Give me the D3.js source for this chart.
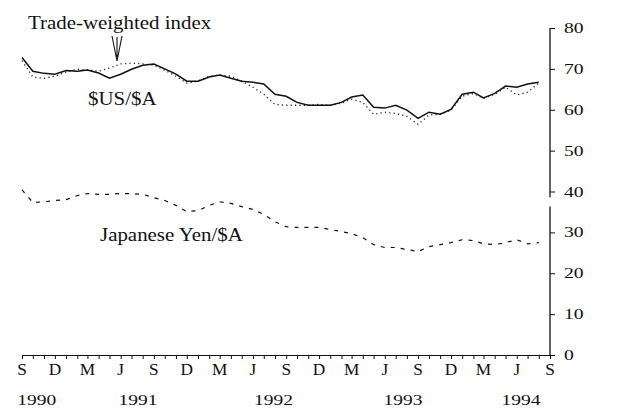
<!DOCTYPE html>
<html>
<head>
<meta charset="utf-8">
<script src="https://cdn.jsdelivr.net/npm/d3@7/dist/d3.min.js"></script>
<style>
  body { margin: 0; background: #fff; }
  text { font-family: "Liberation Serif", "Times New Roman", serif; fill: #111; }
</style>
</head>
<body>
<svg id="chart" width="631" height="410"></svg>
<script>
// monthly series, Sep 1990 .. Aug 1994
var startMonth = new Date(1990, 8, 1);
var usdAud = [72.8, 69.4, 68.9, 68.7, 69.6, 69.4, 69.7, 69.0, 67.7, 68.7, 69.9, 70.9,
              71.2, 70.0, 68.7, 67.0, 67.0, 68.0, 68.5, 67.7, 67.0, 66.7, 66.3, 63.8,
              63.3, 61.8, 61.1, 61.1, 61.1, 61.8, 63.1, 63.6, 60.6, 60.4, 61.1, 59.9,
              57.9, 59.4, 58.9, 60.1, 63.8, 64.3, 62.9, 64.0, 65.8, 65.5, 66.3, 66.7];
var twiAud = [72.0, 68.0, 67.7, 68.2, 69.2, 69.9, 69.7, 69.4, 70.2, 71.2, 71.4, 71.2,
              70.9, 69.7, 68.2, 66.5, 67.0, 68.2, 68.5, 68.2, 67.0, 65.5, 63.8, 61.3,
              61.1, 61.1, 61.1, 61.3, 61.1, 61.6, 62.6, 61.8, 58.9, 59.4, 59.1, 58.4,
              56.4, 58.7, 58.9, 59.9, 63.3, 64.0, 62.8, 63.8, 65.5, 63.6, 64.3, 66.5];
var yenAud = [40.4, 37.3, 37.5, 37.8, 38.0, 39.0, 39.5, 39.3, 39.3, 39.5, 39.5, 39.3,
              38.5, 37.8, 36.6, 35.1, 35.3, 36.6, 37.5, 37.1, 36.3, 35.6, 34.4, 32.6,
              31.4, 31.2, 31.2, 31.2, 30.7, 30.2, 29.7, 28.7, 27.0, 26.3, 26.3, 25.8,
              25.3, 26.5, 27.0, 27.5, 28.2, 28.0, 27.2, 27.0, 27.5, 28.2, 27.2, 27.5];

var yTicks = [0, 10, 20, 30, 40, 50, 60, 70, 80];
var quarterLabels = ['S', 'D', 'M', 'J', 'S', 'D', 'M', 'J', 'S', 'D', 'M', 'J',
                     'S', 'D', 'M', 'J', 'S'];
var yearLabels = ['1990', '1991', '1992', '1993', '1994'];
var yearDates = [new Date(1990, 9, 12), new Date(1991, 6, 19), new Date(1992, 6, 28),
                 new Date(1993, 6, 21), new Date(1994, 5, 13)];
var axisBreak = [36.3, 38.6];

function toSeries(vals) {
  return vals.map(function(v, i) {
    return { date: d3.timeMonth.offset(startMonth, i), value: v };
  });
}

var svg = d3.select('#chart');

var x = d3.scaleTime()
  .domain([startMonth, new Date(1994, 8, 1)])
  .range([22, 550]);

var y = d3.scaleLinear()
  .domain([0, 80])
  .range([355, 28]);

var line = d3.line()
  .x(function(d) { return x(d.date); })
  .y(function(d) { return y(d.value); });

// serif text, a bit wider than tall like the scanned original
function label(g, txt, px, py, size, sx, anchor) {
  return g.append('text')
    .attr('transform', 'translate(' + px + ',' + py + ') scale(' + sx + ',1)')
    .attr('text-anchor', anchor || 'start')
    .style('font-size', size + 'px')
    .text(txt);
}

// lines
svg.append('path')
  .datum(toSeries(twiAud))
  .attr('d', line)
  .attr('fill', 'none')
  .attr('stroke', '#222')
  .attr('stroke-width', 1.3)
  .attr('stroke-dasharray', '1.2,3.2');

svg.append('path')
  .datum(toSeries(usdAud))
  .attr('d', line)
  .attr('fill', 'none')
  .attr('stroke', '#111')
  .attr('stroke-width', 1.5);

svg.append('path')
  .datum(toSeries(yenAud))
  .attr('d', line)
  .attr('fill', 'none')
  .attr('stroke', '#111')
  .attr('stroke-width', 1.2)
  .attr('stroke-dasharray', '4,6');

// right axis (with break)
var xAxisEnd = x.range()[1];
var yAxisG = svg.append('g')
  .attr('transform', 'translate(' + xAxisEnd + ',0)')
  .call(d3.axisRight(y).tickValues(yTicks).tickSize(5).tickSizeOuter(0).tickFormat(''));
yAxisG.select('.domain').remove();
yAxisG.selectAll('line').attr('stroke', '#111');

var segs = [[0, axisBreak[0]], [axisBreak[1], 80]];
segs.forEach(function(s) {
  svg.append('line')
    .attr('x1', xAxisEnd).attr('x2', xAxisEnd)
    .attr('y1', y(s[0])).attr('y2', y(s[1]))
    .attr('stroke', '#111')
    .attr('stroke-width', 1.3);
});

yTicks.forEach(function(t) {
  label(svg, t, xAxisEnd + 14, y(t) + 5, 14, 1.4, 'start');
});

// bottom axis
var xAxisG = svg.append('g')
  .attr('transform', 'translate(0,' + y(0) + ')')
  .call(d3.axisBottom(x).ticks(d3.timeMonth.every(1)).tickSize(4).tickSizeOuter(0).tickFormat(''));
xAxisG.select('.domain').attr('stroke', '#111').attr('stroke-width', 1.2);
xAxisG.selectAll('line').attr('stroke', '#111');

quarterLabels.forEach(function(q, i) {
  label(svg, q, x(d3.timeMonth.offset(startMonth, i * 3)), 375, 16, 1.08, 'middle');
});

yearLabels.forEach(function(yr, i) {
  label(svg, yr, x(yearDates[i]), 405, 15, 1.3, 'middle');
});

// series labels
label(svg, 'Trade-weighted index', 28, 29, 19, 1.1, 'start');
label(svg, '$US/$A', 88, 105, 19, 1.1, 'start');
label(svg, 'Japanese Yen/$A', 100, 241, 19, 1.1, 'start');

// arrow from the index label down to its line
svg.append('path')
  .attr('d', 'M112,36 L117,61 L122,36 M117,37 L117,57')
  .attr('fill', 'none')
  .attr('stroke', '#111')
  .attr('stroke-width', 1.1);
</script>
</body>
</html>
